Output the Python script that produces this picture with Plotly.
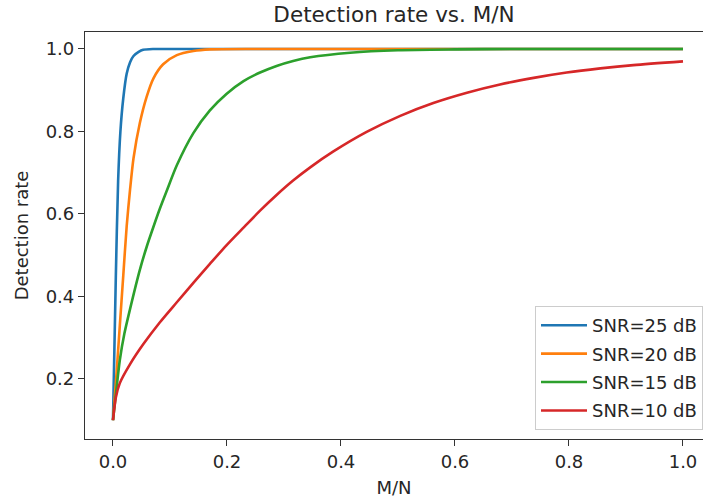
import plotly.graph_objects as go

# Detection rate vs. compression ratio M/N for four SNR levels
mn_25 = [0.0, 0.005, 0.009, 0.013, 0.018, 0.024, 0.030, 0.036, 0.045, 0.053, 0.07, 0.1, 0.2, 0.4, 0.6, 0.8, 1.0]
pd_25 = [0.10, 0.45, 0.68, 0.80, 0.88, 0.94, 0.968, 0.983, 0.993, 0.998, 1.0, 1.0, 1.0, 1.0, 1.0, 1.0, 1.0]

mn_20 = [0.0, 0.006, 0.012, 0.018, 0.024, 0.030, 0.036, 0.047, 0.059, 0.071, 0.088, 0.112, 0.141,
         0.170, 0.25, 0.4, 0.6, 0.8, 1.0]
pd_20 = [0.10, 0.21, 0.33, 0.45, 0.57, 0.66, 0.735, 0.82, 0.884, 0.929, 0.963, 0.985, 0.995,
         0.999, 1.0, 1.0, 1.0, 1.0, 1.0]

mn_15 = [0.0, 0.006, 0.012, 0.020, 0.030, 0.047, 0.059, 0.071, 0.082, 0.094, 0.112, 0.141, 0.170,
         0.199, 0.229, 0.258, 0.287, 0.316, 0.346, 0.416, 0.5, 0.6, 0.7, 0.85, 1.0]
pd_15 = [0.10, 0.175, 0.246, 0.31, 0.370, 0.464, 0.520, 0.569, 0.612, 0.655, 0.718, 0.796, 0.851,
         0.891, 0.922, 0.943, 0.959, 0.971, 0.980, 0.991, 0.997, 0.999, 1.0, 1.0, 1.0]

mn_10 = [0.0, 0.005, 0.012, 0.030, 0.053, 0.082, 0.112, 0.141, 0.170, 0.199, 0.229, 0.258, 0.287,
         0.316, 0.346, 0.386, 0.445, 0.504, 0.562, 0.621, 0.679, 0.738, 0.796, 0.855, 0.913, 1.0]
pd_10 = [0.10, 0.155, 0.19, 0.236, 0.284, 0.337, 0.386, 0.433, 0.479, 0.524, 0.567, 0.608, 0.646,
         0.681, 0.713, 0.751, 0.799, 0.838, 0.869, 0.894, 0.914, 0.930, 0.943, 0.953, 0.961, 0.970]

series = [
    ("SNR=25 dB", mn_25, pd_25, "#1f77b4"),
    ("SNR=20 dB", mn_20, pd_20, "#ff7f0e"),
    ("SNR=15 dB", mn_15, pd_15, "#2ca02c"),
    ("SNR=10 dB", mn_10, pd_10, "#d62728"),
]

x_ticks = [0.0, 0.2, 0.4, 0.6, 0.8, 1.0]
y_ticks = [0.2, 0.4, 0.6, 0.8, 1.0]

FONT = "DejaVu Sans"
TEXT = "#262626"

fig = go.Figure()
for i, (name, xs, ys, color) in enumerate(series):
    fig.add_trace(go.Scatter(
        x=xs, y=ys, mode="lines", name=name,
        line=dict(color=color, width=2.6, shape="spline", smoothing=0.7),
        legendgroup=f"g{i}",
    ))

axis_common = dict(
    showline=True, linecolor="#333333", linewidth=1.2,
    ticks="outside", ticklen=6, tickwidth=1.2, tickcolor="#333333",
    showgrid=False, zeroline=False,
    tickfont=dict(family=FONT, size=18, color=TEXT),
    tickformat=".1f",
)

fig.update_layout(
    width=703, height=501,
    margin=dict(l=85, r=0, t=32, b=62),
    paper_bgcolor="white", plot_bgcolor="white",
    font=dict(family=FONT, color=TEXT),
    title=dict(
        text="Detection rate vs. M/N",
        font=dict(family=FONT, size=21.5, color=TEXT),
        x=0.5, xref="paper", xanchor="center",
        y=1 - 14 / 501, yref="container", yanchor="middle",
    ),
    xaxis=dict(
        range=[-0.0491, 1.0351], tickvals=x_ticks, mirror=True,
        title=dict(text="M/N", font=dict(family=FONT, size=18, color=TEXT), standoff=10),
        **axis_common,
    ),
    yaxis=dict(
        range=[0.0545, 1.0412], tickvals=y_ticks,
        title=dict(text="Detection rate", font=dict(family=FONT, size=18, color=TEXT), standoff=12),
        **axis_common,
    ),
    legend=dict(
        x=1, xanchor="right", y=0.022, yanchor="bottom",
        bgcolor="rgba(255,255,255,0.8)", bordercolor="#cccccc", borderwidth=1,
        font=dict(family=FONT, size=18, color=TEXT),
        tracegroupgap=2, itemwidth=46,
    ),
    showlegend=True,
)

fig.write_html("out.html")
